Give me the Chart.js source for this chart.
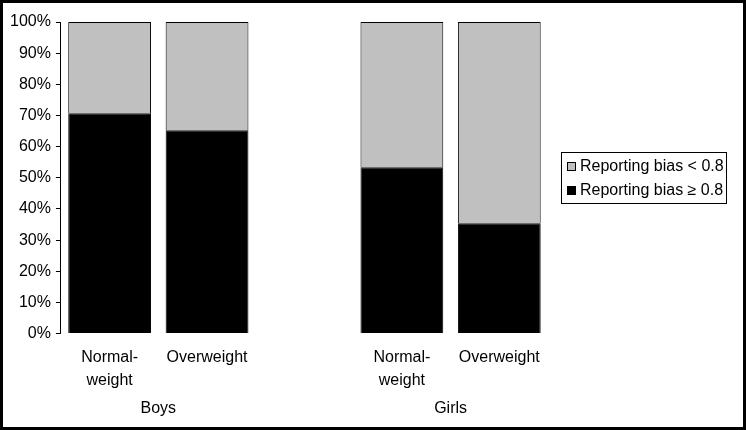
<!DOCTYPE html>
<html>
<head>
<meta charset="utf-8">
<script src="https://cdn.jsdelivr.net/npm/chart.js@4.4.0/dist/chart.umd.min.js"></script>
<style>
  html, body { margin: 0; padding: 0; background: #fff; }
  #wrap { width: 746px; height: 430px; position: relative; }
</style>
</head>
<body>
<div id="wrap"><canvas id="c" width="746" height="430"></canvas></div>
<script>
// Categories (empty slot separates the two groups)
const categories = [["Normal-", "weight"], "Overweight", "", ["Normal-", "weight"], "Overweight"];
const groups = ["Boys", "Girls"];
const groupMembers = [[0, 1], [3, 4]];
// Series values (%)
const biasHigh = [70.7, 65.3, null, 53.4, 35.4];   // Reporting bias ≥ 0.8
const biasLow  = [29.3, 34.7, null, 46.6, 64.6];   // Reporting bias < 0.8
const seriesLabels = ["Reporting bias \u2265 0.8", "Reporting bias < 0.8"];
const yTicks = [0, 10, 20, 30, 40, 50, 60, 70, 80, 90, 100];

const FONT = "'Liberation Sans', Arial, sans-serif";

const framePlugin = {
  id: 'frame',
  beforeDraw(chart) {
    const ctx = chart.ctx;
    ctx.save();
    ctx.fillStyle = '#fff';
    ctx.fillRect(0, 0, chart.width, chart.height);
    ctx.restore();
  },
  afterDraw(chart) {
    const ctx = chart.ctx;
    const xs = chart.scales.x;
    const ca = chart.chartArea;
    ctx.save();
    // group labels
    ctx.font = '16px ' + FONT;
    ctx.fillStyle = '#000';
    ctx.textAlign = 'center';
    ctx.textBaseline = 'middle';
    groups.forEach((g, i) => {
      const m = groupMembers[i];
      const x = (xs.getPixelForValue(m[0]) + xs.getPixelForValue(m[1])) / 2;
      ctx.fillText(g, x, 409);
    });
    // legend (top-most series first)
    const ds = chart.data.datasets;
    const order = [1, 0];
    const lx = ca.right + 13, lw = 165, lh = 51;
    const cy = (ca.top + ca.bottom) / 2;
    const ly = Math.round(cy - lh / 2) + 0.5;
    ctx.lineWidth = 1;
    ctx.strokeStyle = '#000';
    ctx.strokeRect(Math.round(lx) + 0.5, ly, lw, lh);
    ctx.textAlign = 'left';
    order.forEach((di, k) => {
      const iy = ly + 13 + k * 24;
      ctx.fillStyle = ds[di].backgroundColor;
      ctx.fillRect(Math.round(lx) + 6, Math.round(iy - 4), 9, 9);
      ctx.strokeRect(Math.round(lx) + 6.5, Math.round(iy - 4) + 0.5, 8, 8);
      ctx.fillStyle = '#000';
      ctx.fillText(ds[di].label, Math.round(lx) + 19, iy + 1);
    });
    // outer frame
    ctx.lineWidth = 3;
    ctx.strokeRect(1.5, 1.5, chart.width - 3, chart.height - 3);
    ctx.restore();
  }
};

new Chart(document.getElementById('c'), {
  type: 'bar',
  data: {
    labels: categories,
    datasets: [
      { label: seriesLabels[0], data: biasHigh, backgroundColor: '#000000', borderColor: '#000000', borderWidth: 1 },
      { label: seriesLabels[1], data: biasLow, backgroundColor: '#c0c0c0', borderColor: '#000000', borderWidth: 1 }
    ]
  },
  options: {
    responsive: false,
    animation: false,
    devicePixelRatio: 1,
    layout: { padding: { left: 5, top: 22, right: 198, bottom: 34 } },
    plugins: { legend: { display: false }, tooltip: { enabled: false } },
    datasets: { bar: { categoryPercentage: 1, barPercentage: 0.85 } },
    scales: {
      x: {
        stacked: true,
        grid: { display: false },
        border: { display: false },
        ticks: { color: '#000', font: { family: FONT, size: 16, lineHeight: 1.45 }, padding: 4, maxRotation: 0, autoSkip: false }
      },
      y: {
        stacked: true,
        min: 0, max: 100,
        afterBuildTicks(scale) { scale.ticks = yTicks.map(v => ({ value: v })); },
        grid: { drawOnChartArea: false, tickLength: 5, color: '#000' },
        border: { display: true, color: '#000' },
        ticks: { color: '#000', padding: 5, font: { family: FONT, size: 16 }, callback: v => v + '%' }
      }
    }
  },
  plugins: [framePlugin]
});
</script>
</body>
</html>
